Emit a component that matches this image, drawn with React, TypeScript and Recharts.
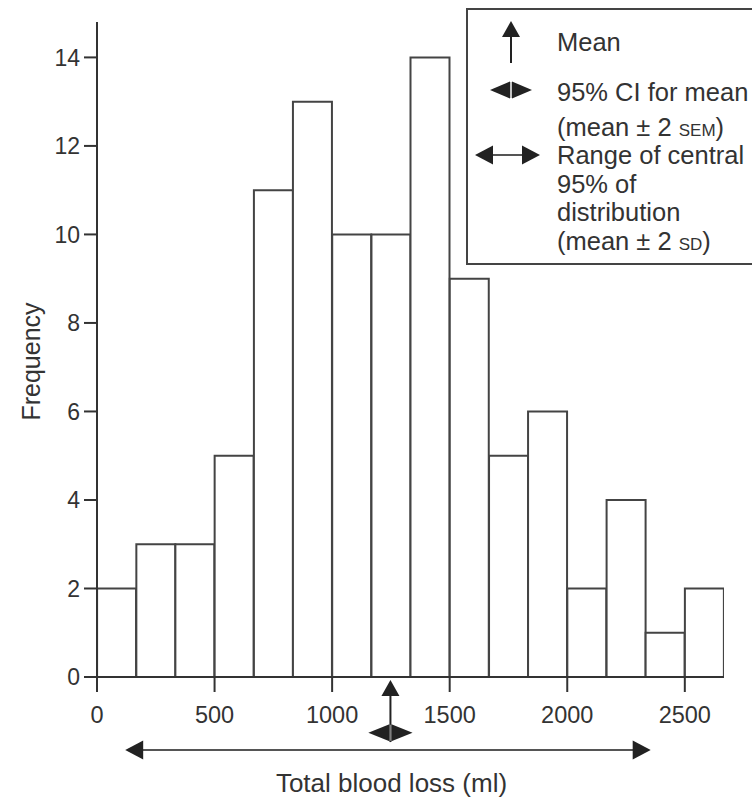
import React from 'react';
import { ComposedChart, Bar, XAxis, YAxis, ReferenceLine } from 'recharts';

// ---- data ----
const binLower = [0, 167, 333, 500, 667, 833, 1000, 1167, 1333, 1500, 1667, 1833, 2000, 2167, 2333, 2500];
const frequencies = [2, 3, 3, 5, 11, 13, 10, 10, 14, 9, 5, 6, 2, 4, 1, 2];
const binWidth = 166.67;
const xTicks = [0, 500, 1000, 1500, 2000, 2500];
const yTicks = [0, 2, 4, 6, 8, 10, 12, 14];
const xMax = 2666.67;
const meanLoss = 1248;
const ciLow = 1154;
const ciHigh = 1342;
const rangeLow = 120;
const rangeHigh = 2355;

const data = binLower.map((b, i) => ({ mid: b + binWidth / 2, freq: frequencies[i] }));

const FONT = '"Liberation Sans", Arial, sans-serif';
const INK = '#222';

const upArrowPath = (x: number, top: number, bottom: number) => (
  <g>
    <line x1={x} x2={x} y1={top + 12} y2={bottom} stroke={INK} strokeWidth={2} />
    <polygon points={`${x},${top} ${x - 9},${top + 16} ${x + 9},${top + 16}`} fill={INK} />
  </g>
);

const doubleArrowPath = (xa: number, xb: number, y: number, headLen: number, half: number, lineW: number, lineColor: string) => {
  const l = Math.min(xa, xb);
  const r = Math.max(xa, xb);
  return (
    <g>
      <line x1={l + headLen - 2} x2={r - headLen + 2} y1={y} y2={y} stroke={lineColor} strokeWidth={lineW} />
      <polygon points={`${l},${y} ${l + headLen},${y - half} ${l + headLen},${y + half}`} fill={INK} />
      <polygon points={`${r},${y} ${r - headLen},${y - half} ${r - headLen},${y + half}`} fill={INK} />
    </g>
  );
};

const ciArrowPath = (xa: number, xb: number, y: number) => {
  const l = Math.min(xa, xb);
  const r = Math.max(xa, xb);
  const m = (l + r) / 2;
  return (
    <g>
      <polygon points={`${l},${y} ${m - 1},${y - 8.5} ${m - 1},${y + 8.5}`} fill={INK} />
      <polygon points={`${r},${y} ${m + 1},${y - 8.5} ${m + 1},${y + 8.5}`} fill={INK} />
      <line x1={m} x2={m} y1={y - 8} y2={y + 8} stroke="#888" strokeWidth={1} />
    </g>
  );
};

const MeanShape = (p: any) => upArrowPath(p.x1, Math.min(p.y1, p.y2), Math.max(p.y1, p.y2));
const CIShape = (p: any) => ciArrowPath(p.x1, p.x2, p.y1);
const RangeShape = (p: any) => doubleArrowPath(p.x1, p.x2, p.y1, 18, 9.5, 2, '#555');

const YLabel = (props: any) => {
  const vb = props.viewBox || {};
  const cx = 31;
  const cy = vb.y + vb.height / 2 + 12;
  return (
    <text x={cx} y={cy} transform={`rotate(-90, ${cx}, ${cy})`} textAnchor="middle" dominantBaseline="central"
      fontFamily={FONT} fontSize={25} fill="#333">Frequency</text>
  );
};

const XLabel = (props: any) => {
  const vb = props.viewBox || {};
  const cx = vb.x + vb.width / 2 - 19;
  return (
    <text x={cx} y={792} textAnchor="middle" fontFamily={FONT} fontSize={26} fill="#333">Total blood loss (ml)</text>
  );
};

const Legend = () => (
  <svg width={752} height={799} style={{ position: 'absolute', left: 0, top: 0, pointerEvents: 'none' }}>
    <rect x={467} y={9} width={300} height={255} fill="#fff" stroke="#444" strokeWidth={2} />
    {upArrowPath(511, 21, 63)}
    {ciArrowPath(490, 532, 90)}
    {doubleArrowPath(475, 540, 155, 18, 9.5, 2, '#555')}
    <g fontFamily={FONT} fontSize={25.5} fill="#333">
      <text x={557} y={51}>Mean</text>
      <text x={557} y={101}>95% CI for mean</text>
      <text x={557} y={136}>(mean ± 2 <tspan fontSize={17}>SEM</tspan>)</text>
      <text x={557} y={164}>Range of central</text>
      <text x={557} y={193}>95% of</text>
      <text x={557} y={221}>distribution</text>
      <text x={557} y={250}>(mean ± 2 <tspan fontSize={17}>SD</tspan>)</text>
    </g>
  </svg>
);

export default function App() {
  return (
    <div style={{ position: 'absolute', left: 0, top: 0, width: 752, height: 799, background: '#fff' }}>
      <ComposedChart width={752} height={799} data={data}
        margin={{ top: 22, right: 28, left: 0, bottom: 0 }}
        barCategoryGap={0} barGap={0}>
        <XAxis dataKey="mid" type="number" domain={[0, xMax]} allowDataOverflow ticks={xTicks} interval={0}
          height={122} tickSize={15} tickMargin={14}
          axisLine={{ stroke: '#333', strokeWidth: 2 }} tickLine={{ stroke: '#333', strokeWidth: 2 }}
          tick={{ fontFamily: FONT, fontSize: 23.5, fill: '#333' }}
          label={<XLabel />} />
        <YAxis type="number" domain={[0, 14.8]} allowDataOverflow ticks={yTicks} interval={0} width={97}
          tickSize={13} tickMargin={4}
          axisLine={{ stroke: '#333', strokeWidth: 2 }} tickLine={{ stroke: '#333', strokeWidth: 2 }}
          tick={{ fontFamily: FONT, fontSize: 23, fill: '#333' }}
          label={<YLabel />} />
        <Bar dataKey="freq" fill="#fff" stroke="#444" strokeWidth={2} isAnimationActive={false} />
        <ReferenceLine ifOverflow="visible"
          segment={[{ x: rangeLow, y: -1.65 }, { x: rangeHigh, y: -1.65 }]} shape={RangeShape} />
        <ReferenceLine ifOverflow="visible"
          segment={[{ x: meanLoss, y: -0.07 }, { x: meanLoss, y: -1.47 }]} shape={MeanShape} />
        <ReferenceLine ifOverflow="visible"
          segment={[{ x: ciLow, y: -1.26 }, { x: ciHigh, y: -1.26 }]} shape={CIShape} />
      </ComposedChart>
      <Legend />
    </div>
  );
}
